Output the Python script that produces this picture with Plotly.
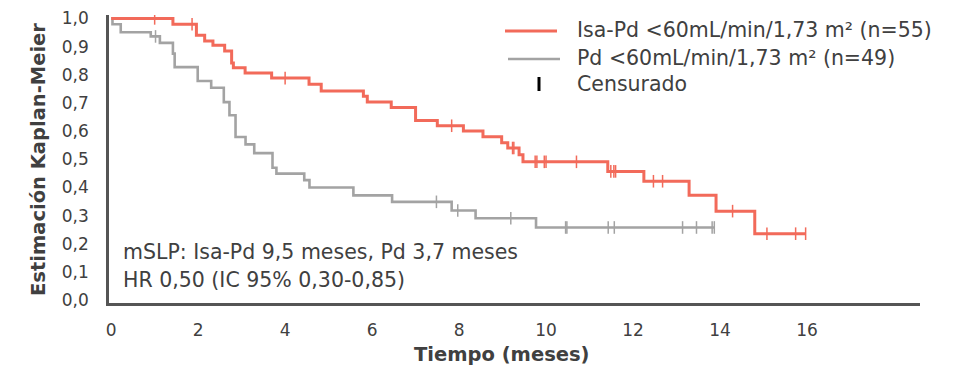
import plotly.graph_objects as go

# ---- data ----
red_t = [0, 1.42, 1.96, 2.15, 2.34, 2.61, 2.77, 2.81, 3.08, 3.69, 4.55, 4.83, 5.80, 5.89,
         6.44, 7.00, 7.50, 8.10, 8.55, 8.98, 9.12, 9.38, 9.47, 11.42, 12.25, 13.29, 13.91,
         14.80, 15.97]
red_s = [1.0, 0.979, 0.94, 0.92, 0.905, 0.884, 0.842, 0.825, 0.806, 0.788, 0.766, 0.742,
         0.724, 0.703, 0.684, 0.638, 0.619, 0.600, 0.580, 0.559, 0.540, 0.516, 0.491, 0.457,
         0.422, 0.372, 0.316, 0.236, 0.236]
red_cens = [1.0, 1.86, 4.0, 7.83, 9.23, 9.26, 9.75, 9.79, 9.96, 10.0, 10.7, 11.49, 11.56,
            11.6, 12.47, 12.68, 14.29, 15.08, 15.74, 15.97]

gray_t = [0, 0.03, 0.22, 0.91, 1.12, 1.42, 1.46, 1.99, 2.30, 2.59, 2.72, 2.86, 3.09, 3.29,
          3.71, 3.80, 4.44, 4.56, 5.57, 6.46, 7.83, 8.38, 9.77, 13.87]
gray_s = [1.0, 0.979, 0.951, 0.936, 0.913, 0.875, 0.827, 0.778, 0.754, 0.703, 0.656, 0.579,
          0.553, 0.522, 0.47, 0.449, 0.426, 0.40, 0.372, 0.349, 0.318, 0.291, 0.258, 0.258]
gray_cens = [1.02, 7.48, 7.97, 9.19, 10.45, 10.48, 11.43, 11.57, 13.14, 13.46, 13.82, 13.87]

x_ticks = [0, 2, 4, 6, 8, 10, 12, 14, 16]
x_ticktext = ["0", "2", "4", "6", "8", "10", "12", "14", "16"]
y_ticks = [0.0, 0.1, 0.2, 0.3, 0.4, 0.5, 0.6, 0.7, 0.8, 0.9, 1.0]
y_ticktext = ["0,0", "0,1", "0,2", "0,3", "0,4", "0,5", "0,6", "0,7", "0,8", "0,9", "1,0"]

series_names = ["Isa-Pd <60mL/min/1,73 m² (n=55)", "Pd <60mL/min/1,73 m² (n=49)", "Censurado"]
note_lines = ["mSLP: Isa-Pd 9,5 meses, Pd 3,7 meses", "HR 0,50 (IC 95% 0,30-0,85)"]

RED = "#F26A5A"
GRAY = "#A3A3A3"
TXT = "#404040"
FONT = "DejaVu Sans"

W, H = 961, 367
ML, MR, MT, MB = 109, 41, 15, 64
PW, PH = W - ML - MR, H - MT - MB


def px(x):  # page pixel -> paper x
    return (x - ML) / PW


def py(y):  # page pixel -> paper y
    return (H - MB - y) / PH


def step_at(ts, ss, t):
    v = ss[0]
    for ti, si in zip(ts, ss):
        if ti <= t:
            v = si
    return v


fig = go.Figure()
for ts, ss, cens, col, w in [(gray_t, gray_s, gray_cens, GRAY, 2.6), (red_t, red_s, red_cens, RED, 3)]:
    fig.add_trace(go.Scatter(x=ts, y=ss, mode="lines", line=dict(color=col, width=w, shape="hv"),
                             showlegend=False, hoverinfo="skip"))
    fig.add_trace(go.Scatter(x=cens, y=[step_at(ts, ss, c) for c in cens], mode="markers",
                             marker=dict(symbol="line-ns", size=9, line=dict(color=col, width=1.5)),
                             showlegend=False, hoverinfo="skip"))

fig.update_layout(
    width=W, height=H,
    margin=dict(l=ML, r=MR, t=MT, b=MB, autoexpand=False),
    paper_bgcolor="white", plot_bgcolor="white",
    font=dict(family=FONT, color=TXT, size=17),
    xaxis=dict(range=[-0.05, 18.6], tickvals=x_ticks, ticktext=x_ticktext, showgrid=False,
               zeroline=False, showline=True, linecolor="#555555", linewidth=2.5, ticks="",
               ticklabelstandoff=10, tickfont=dict(size=17, color=TXT), automargin=False),
    yaxis=dict(range=[-0.01, 1.012], tickvals=y_ticks, ticktext=y_ticktext, showgrid=False,
               zeroline=False, showline=True, linecolor="#555555", linewidth=2.5, ticks="",
               ticklabelstandoff=14, tickfont=dict(size=17, color=TXT), automargin=False),
)

# axis titles
fig.add_annotation(text="<b>Tiempo (meses)</b>", xref="paper", yref="paper", x=px(501), y=py(354),
                   xanchor="center", yanchor="middle", showarrow=False, font=dict(size=19.5, color=TXT))
fig.add_annotation(text="<b>Estimación Kaplan-Meier</b>", xref="paper", yref="paper", x=px(38), y=py(160),
                   xanchor="center", yanchor="middle", textangle=-90, showarrow=False,
                   font=dict(size=19.5, color=TXT))

# note text
for line, yy in zip(note_lines, [252, 280]):
    fig.add_annotation(text=line, xref="paper", yref="paper", x=px(121), y=py(yy), xanchor="left",
                       yanchor="middle", align="left", showarrow=False, font=dict(size=20.5, color=TXT))

# manual legend
fig.add_shape(type="line", xref="paper", yref="paper", x0=px(505), x1=px(557), y0=py(31), y1=py(31),
              line=dict(color=RED, width=3))
fig.add_shape(type="line", xref="paper", yref="paper", x0=px(508), x1=px(560), y0=py(59), y1=py(59),
              line=dict(color=GRAY, width=2.5))
fig.add_shape(type="line", xref="paper", yref="paper", x0=px(539), x1=px(539), y0=py(77), y1=py(91),
              line=dict(color="black", width=3))
for name, yy in zip(series_names, [30, 58, 84]):
    fig.add_annotation(text=name, xref="paper", yref="paper", x=px(575), y=py(yy), xanchor="left",
                       yanchor="middle", showarrow=False, font=dict(size=20.5, color=TXT))

fig.write_html("out.html", config={"displayModeBar": False},
               post_script="document.body.style.margin='0';document.body.style.overflow='hidden';")
